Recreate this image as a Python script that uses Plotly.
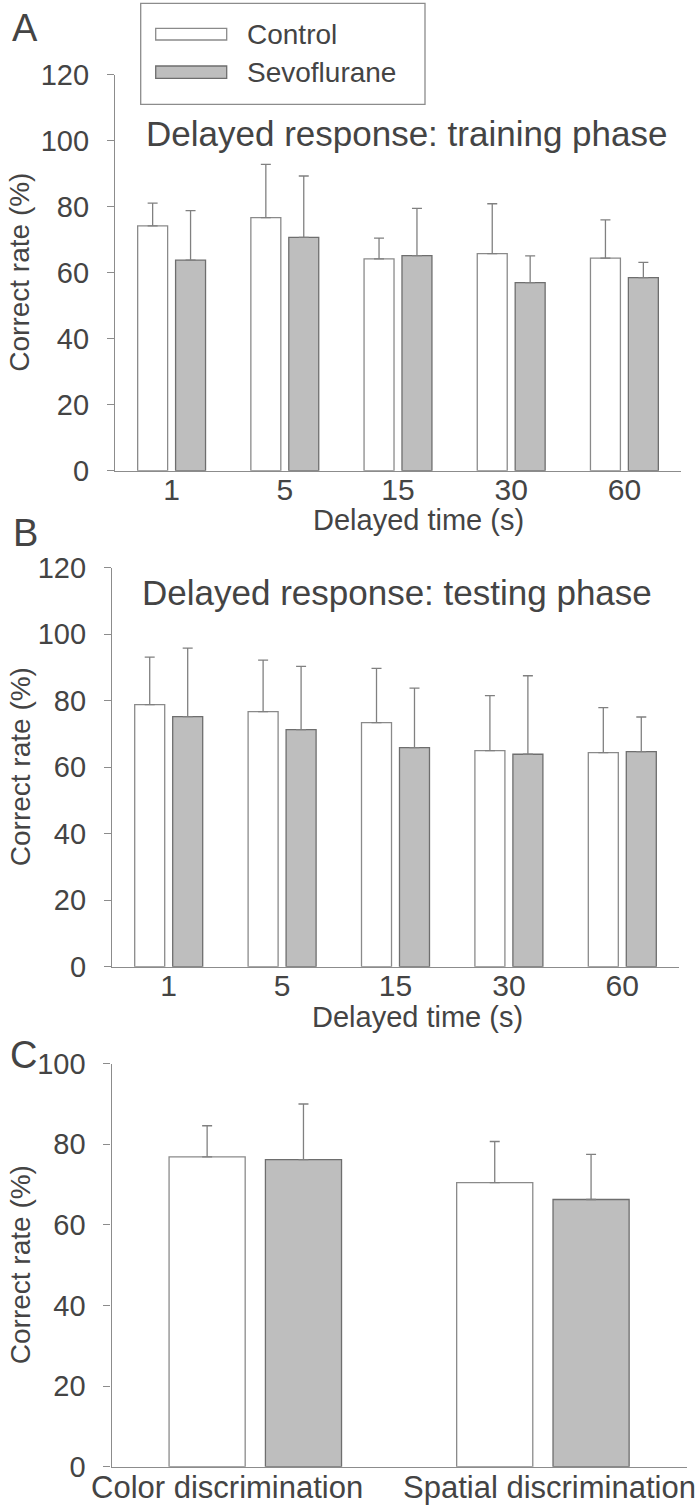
import plotly.graph_objects as go

# ---------------- data ----------------
delays = ["1", "5", "15", "30", "60"]
train_control = [74.2, 76.7, 64.2, 65.8, 64.4]
train_control_sd = [6.9, 16.1, 6.3, 15.1, 11.6]
train_sevo = [63.8, 70.7, 65.2, 57.0, 58.5]
train_sevo_sd = [15.0, 18.6, 14.3, 8.1, 4.6]

test_control = [78.8, 76.7, 73.4, 65.0, 64.4]
test_control_sd = [14.3, 15.5, 16.3, 16.5, 13.5]
test_sevo = [75.2, 71.3, 65.9, 63.9, 64.7]
test_sevo_sd = [20.6, 19.0, 17.9, 23.6, 10.4]

tasks = ["Color discrimination", "Spatial discrimination"]
disc_control = [76.9, 70.5]
disc_control_sd = [7.7, 10.2]
disc_sevo = [76.2, 66.3]
disc_sevo_sd = [13.8, 11.2]

# ---------------- style ----------------
W, H = 700, 1511
FONT = "Liberation Sans, Arial, sans-serif"
TXT = "#444444"
AX = "#8c8c8c"
CTRL_FILL, CTRL_LINE = "#ffffff", "#8a8a8a"
SEVO_FILL, SEVO_LINE = "#bebebe", "#6e6e6e"
ERR = "#808080"


def px_x(p):
    return p / W


def px_y(p):
    return 1 - p / H


fig = go.Figure()


def add_pair(xs, c, csd, s, ssd, xa, ya):
    for vals, sd, fill, line, name in [
        (c, csd, CTRL_FILL, CTRL_LINE, "Control"),
        (s, ssd, SEVO_FILL, SEVO_LINE, "Sevoflurane"),
    ]:
        fig.add_trace(go.Bar(
            x=xs, y=vals, name=name, showlegend=False,
            xaxis=xa, yaxis=ya,
            marker=dict(color=fill, line=dict(color=line, width=1.3)),
            error_y=dict(type="data", array=sd, arrayminus=[0] * len(sd),
                         symmetric=False, color=ERR, thickness=1.3, width=5),
        ))


add_pair(delays, train_control, train_control_sd, train_sevo, train_sevo_sd, "x", "y")
add_pair(delays, test_control, test_control_sd, test_sevo, test_sevo_sd, "x2", "y2")
add_pair(tasks, disc_control, disc_control_sd, disc_sevo, disc_sevo_sd, "x3", "y3")

xcommon = dict(showline=True, linecolor=AX, linewidth=1.3, ticks="",
               showgrid=False, zeroline=False, automargin=False,
               ticklabelstandoff=-8, type="category",
               tickfont=dict(family=FONT, size=30, color=TXT))
ycommon = dict(showline=True, linecolor=AX, linewidth=1.3, ticks="outside",
               ticklen=7, tickcolor=AX, tickwidth=1.3, showgrid=False,
               zeroline=False, ticklabelstandoff=12, automargin=False,
               tickfont=dict(family=FONT, size=29, color=TXT))

fig.update_layout(
    width=W, height=H,
    margin=dict(l=0, r=0, t=0, b=0, autoexpand=False),
    paper_bgcolor="white", plot_bgcolor="white",
    barmode="group", bargap=0.33, bargroupgap=0.21,
    showlegend=False,
    xaxis=dict(domain=[px_x(115), px_x(681)], anchor="y",
               range=[-0.5, len(delays) - 0.5], **xcommon),
    yaxis=dict(domain=[px_y(470.7), px_y(74.7)], anchor="x", range=[0, 120],
               tickvals=[0, 20, 40, 60, 80, 100, 120], **ycommon),
    xaxis2=dict(domain=[px_x(112), px_x(679)], anchor="y2",
                range=[-0.5, len(delays) - 0.5], **xcommon),
    yaxis2=dict(domain=[px_y(966.7), px_y(567.7)], anchor="x2", range=[0, 120],
                tickvals=[0, 20, 40, 60, 80, 100, 120], **ycommon),
    xaxis3=dict(domain=[px_x(111.5), px_x(686.7)], anchor="y3", showticklabels=False,
                range=[-0.5, len(tasks) - 0.5], **xcommon),
    yaxis3=dict(domain=[px_y(1466.7), px_y(1063.7)], anchor="x3", range=[0, 100],
                tickvals=[0, 20, 40, 60, 80, 100], **ycommon),
)

ann = []


def text(x, y, s, size, xanchor="center", angle=0, xref="paper", xshift=0):
    ann.append(dict(x=x if xref != "paper" else px_x(x), y=px_y(y), xref=xref,
                    yref="paper", text=s, showarrow=False, xanchor=xanchor,
                    yanchor="middle", textangle=angle, xshift=xshift,
                    font=dict(family=FONT, size=size, color=TXT)))


# panel letters
text(25, 28, "A", 38)
text(25, 533, "B", 38)
text(23, 1055, "C", 38)
# panel titles
text(406, 133, "Delayed response: training phase", 35)
text(397, 592, "Delayed response: testing phase", 35)
# y axis titles
for yc in (272.7, 767.2, 1265.2):
    text(20, yc, "Correct rate (%)", 28, angle=-90)
# x axis titles
text(418, 520, "Delayed time (s)", 29)
text(417, 1017, "Delayed time (s)", 29)
# panel C category labels (placed under their bar groups)
text(0, 1487, tasks[0], 31, xref="x3", xshift=-28)
text(1, 1487, tasks[1], 31, xref="x3", xshift=7)
# legend
text(245, 35, "Control", 28, xanchor="left")
text(245, 73, "Sevoflurane", 28, xanchor="left")

fig.update_layout(annotations=ann)

shapes = [
    dict(type="rect", xref="paper", yref="paper", x0=px_x(140.7), x1=px_x(425),
         y0=px_y(104.3), y1=px_y(3.3), line=dict(color=AX, width=1.3),
         fillcolor="rgba(0,0,0,0)"),
    dict(type="rect", xref="paper", yref="paper", x0=px_x(155.7), x1=px_x(226.7),
         y0=px_y(40), y1=px_y(28.3), line=dict(color=CTRL_LINE, width=1.3),
         fillcolor=CTRL_FILL),
    dict(type="rect", xref="paper", yref="paper", x0=px_x(155.7), x1=px_x(226.7),
         y0=px_y(78.3), y1=px_y(66), line=dict(color=SEVO_LINE, width=1.3),
         fillcolor=SEVO_FILL),
]
fig.update_layout(shapes=shapes)

# the page's default 8px body margin would shift the figure; remove it
fig.write_html("out.html", config={"displayModeBar": False},
               post_script="document.body.style.margin='0px';")
